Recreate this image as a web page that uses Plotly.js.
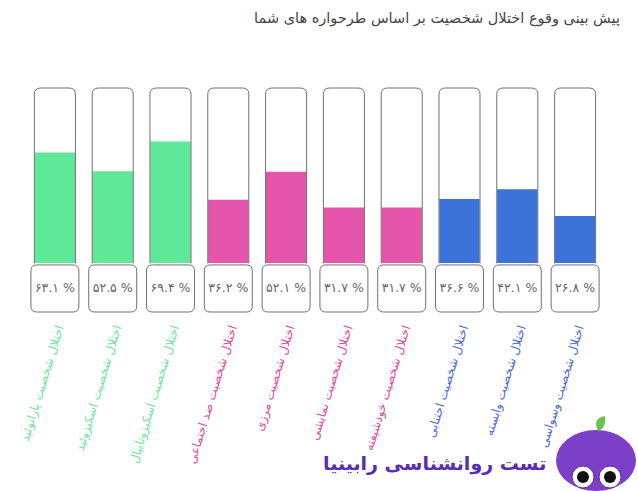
<!DOCTYPE html>
<html>
<head>
<meta charset="utf-8">
<script src="https://cdn.plot.ly/plotly-3.0.1.min.js"></script>
<style>html,body{margin:0;padding:0;background:#fff;}#chart{width:638px;height:491px;}</style>
</head>
<body>
<div id="chart"></div>
<script>
// ---- data ----
const categories = [
  'اختلال شخصیت پارانوئید',
  'اختلال شخصیت اسکیزوئید',
  'اختلال شخصیت اسکیزوتایپال',
  'اختلال شخصیت ضد اجتماعی',
  'اختلال شخصیت مرزی',
  'اختلال شخصیت نمایشی',
  'اختلال شخصیت خودشیفته',
  'اختلال شخصیت اجتنابی',
  'اختلال شخصیت وابسته',
  'اختلال شخصیت وسواسی'
];
const values = [63.1, 52.5, 69.4, 36.2, 52.1, 31.7, 31.7, 36.6, 42.1, 26.8];
const groups = ['A','A','A','B','B','B','B','C','C','C'];
const titleText = 'پیش بینی وقوع اختلال شخصیت بر اساس طرحواره های شما';
const logoText = 'تست روانشناسی رابینیا';

// ---- styles ----
const barColors = {A:'#5fe897', B:'#e455ab', C:'#3b73d9'};
const labelColors = {A:'#72e39d', B:'#d94c9e', C:'#4a6bd1'};
const fa = s => String(s).replace(/[0-9]/g, d => '۰۱۲۳۴۵۶۷۸۹'[d]);

const W = 638, H = 491, L = 26, R = 34, T = 84, B = 177;
const pw = W - L - R, ph = H - T - B;
const yMin = -29.14, yMax = 102.29;
const pxX = px => (px - L) / pw;
const pxY = py => (H - B - py) / ph;

const idx = categories.map((c, i) => i);
const traces = [
  {
    type: 'bar', x: idx, y: values, width: 0.7,
    marker: {color: groups.map(g => barColors[g]), line: {width: 0}},
    hoverinfo: 'skip'
  },
  {
    type: 'scatter', mode: 'text', x: idx, y: values.map(() => -14.6),
    text: values.map(v => fa(v.toFixed(1)) + ' %'),
    textfont: {family: 'DejaVu Sans', size: 12.5, color: '#666'},
    textposition: 'middle center', hoverinfo: 'skip'
  }
];

const shapes = [];
const cw = 0.355, rx = 0.11, ry = 3.6;
idx.forEach(i => {
  const x0 = i - cw, x1 = i + cw;
  shapes.push({
    type: 'path', xref: 'x', yref: 'y', layer: 'above',
    path: `M ${x0} -0.2 L ${x0} ${100 - ry} Q ${x0} 100 ${x0 + rx} 100 L ${x1 - rx} 100 Q ${x1} 100 ${x1} ${100 - ry} L ${x1} -0.2`,
    line: {color: '#707070', width: 1}
  });
  const bx0 = i - 0.415, bx1 = i + 0.415, by0 = -28.0, by1 = -1.1, brx = 0.1, bry = 3.4;
  shapes.push({
    type: 'path', xref: 'x', yref: 'y', layer: 'below',
    path: `M ${bx0} ${by1 - bry} Q ${bx0} ${by1} ${bx0 + brx} ${by1} L ${bx1 - brx} ${by1} Q ${bx1} ${by1} ${bx1} ${by1 - bry} L ${bx1} ${by0 + bry} Q ${bx1} ${by0} ${bx1 - brx} ${by0} L ${bx0 + brx} ${by0} Q ${bx0} ${by0} ${bx0} ${by0 + bry} Z`,
    fillcolor: '#ffffff', line: {color: '#707070', width: 1}
  });
});

// logo creature (decorative)
shapes.push({type:'circle', xref:'paper', yref:'paper', x0:pxX(556), x1:pxX(636), y0:pxY(491), y1:pxY(430), fillcolor:'#7b3fc8', line:{width:0}, layer:'above'});
shapes.push({type:'path', xref:'paper', yref:'paper', path:`M ${pxX(598)} ${pxY(431)} Q ${pxX(592)} ${pxY(418)} ${pxX(605)} ${pxY(416)} Q ${pxX(607)} ${pxY(428)} ${pxX(598)} ${pxY(431)} Z`, fillcolor:'#6cc24a', line:{width:0}, layer:'above'});
[[583,477],[610,477]].forEach(([cx, cy]) => {
  shapes.push({type:'circle', xref:'paper', yref:'paper', x0:pxX(cx-11), x1:pxX(cx+11), y0:pxY(cy+11), y1:pxY(cy-11), fillcolor:'#ffffff', line:{color:'#5a2aa0', width:1}, layer:'above'});
  shapes.push({type:'circle', xref:'paper', yref:'paper', x0:pxX(cx-6), x1:pxX(cx+6), y0:pxY(cy+6), y1:pxY(cy-6), fillcolor:'#111111', line:{width:0}, layer:'above'});
});

const layout = {
  width: W, height: H,
  margin: {l: L, r: R, t: T, b: B},
  paper_bgcolor: '#fff', plot_bgcolor: '#fff',
  showlegend: false,
  title: {
    text: titleText, x: 620 / W, xanchor: 'right', xref: 'container',
    y: 1 - 18 / H, yanchor: 'middle', yref: 'container',
    font: {family: 'DejaVu Sans', size: 14.5, color: '#444'}
  },
  xaxis: {
    range: [-0.5, 9.5], fixedrange: true, showgrid: false, zeroline: false,
    showline: false, ticks: '', automargin: false,
    tickmode: 'array', tickvals: idx,
    ticktext: categories.map((c, i) => `<span style="color:${labelColors[groups[i]]}">${c}</span>`),
    tickangle: -73, ticklabelstandoff: 4, ticklabelshift: 3,
    tickfont: {family: 'DejaVu Sans', size: 12}
  },
  yaxis: {
    range: [yMin, yMax], fixedrange: true, showgrid: false, zeroline: false,
    showline: false, showticklabels: false, ticks: ''
  },
  shapes: shapes,
  annotations: [{
    text: '<b>' + logoText + '</b>', xref: 'paper', yref: 'paper',
    x: pxX(548), y: pxY(463), xanchor: 'right', yanchor: 'middle',
    showarrow: false, font: {family: 'DejaVu Sans', size: 19, color: '#5a2bb5'}
  }]
};

Plotly.newPlot('chart', traces, layout, {displayModeBar: false, staticPlot: true});
</script>
</body>
</html>
